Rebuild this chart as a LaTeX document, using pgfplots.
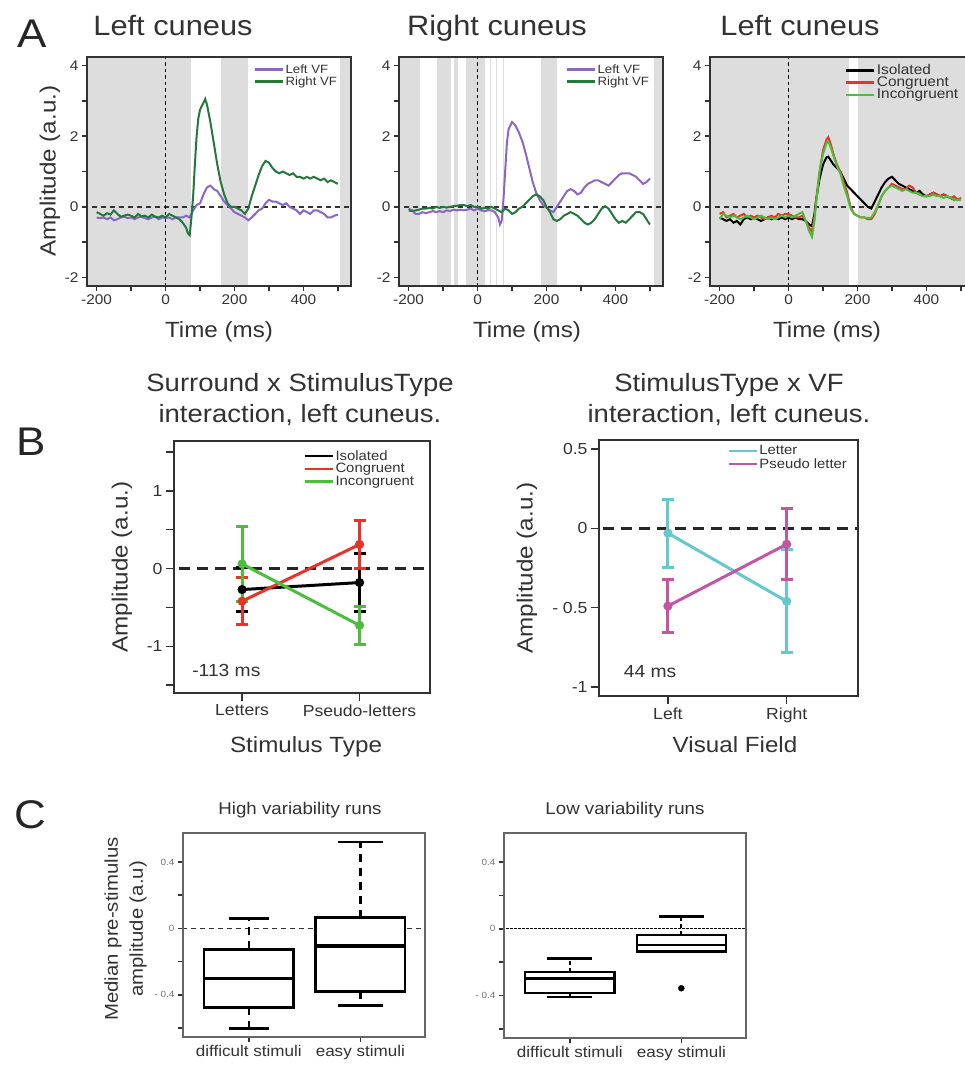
\documentclass[border=0pt]{standalone}
\usepackage{pgfplots}
\pgfplotsset{compat=1.18}
\usepackage{fontspec}
\setmainfont[FakeStretch=1.1]{Liberation Sans}

\definecolor{shadegray}{RGB}{221,221,221}
\definecolor{lvf}{RGB}{138,103,196}
\definecolor{rvf}{RGB}{35,120,60}
\definecolor{cred}{RGB}{235,50,40}
\definecolor{cgreen}{RGB}{75,190,60}
\definecolor{letc}{RGB}{100,200,205}
\definecolor{pseuc}{RGB}{195,85,165}
\definecolor{axc}{RGB}{50,50,50}

\newcommand{\fs}[1]{\fontsize{#1}{#1}\selectfont}

\pgfplotsset{
  rbase/.style={
    scale only axis, axis on top,
    axis line style={line width=1.8pt, axc},
    tick align=outside, major tick length=6pt,
    tick style={line width=1.5pt, axc},
    xtick pos=left, ytick pos=left,
    tick label style={text=axc},
    legend image code/.code={\draw[##1] (0pt,0pt) -- (28pt,0pt);},
    legend style={draw=none, fill=none, inner sep=0pt,
      nodes={inner sep=1.5pt, anchor=west, text=axc}},
  },
  ts/.style={rbase, width=264pt, height=229pt,
    xmin=-228, xmax=538, ymin=-2.24, ymax=4.24,
    xtick={-200,-100,...,500}, xticklabels={-200,,0,,200,,400,},
    ytick={-2,-1,...,4}, yticklabels={-2,,0,,2,,4},
    tick label style={font=\fs{14}},
    major tick length=5pt,
  },
  shadebar/.style={draw=none, fill=shadegray, forget plot},
  zeroline/.style={axc, dash pattern=on 5pt off 4pt, line width=1.4pt, forget plot},
  onsetline/.style={black, dash pattern=on 3.5pt off 3pt, line width=1.8pt, forget plot},
  erb/.style={line width=3pt, mark=*, mark size=3pt, forget plot,
    error bars/.cd, y dir=both, y explicit,
    error bar style={line width=3pt},
    error mark options={rotate=90, mark size=6pt, line width=3pt}},
}

\begin{document}
\begin{tikzpicture}
\path[use as bounding box] (0pt,0pt) rectangle (965pt,-1066pt);

% panel letters
\node[anchor=base west, font=\fs{40}, text=black!85] at (14pt,-47pt) {A};
\node[anchor=base west, font=\fs{40}, text=black!85] at (13pt,-455pt) {B};
\node[anchor=base west, font=\fs{40}, text=black!85] at (11pt,-828pt) {C};

% ---------------- A1 ----------------
\node[anchor=base, font=\fs{28}, text=axc] at (173pt,-35pt) {Left cuneus};
\node[anchor=base, font=\fs{22}, text=axc] at (219pt,-337pt) {Time (ms)};
\node[rotate=90, font=\fs{22}, text=axc] at (50pt,-171pt) {Amplitude (a.u.)};
\begin{axis}[ts, at={(87pt,-286pt)}, anchor=south west,
  legend style={at={(0.63,0.975)}, anchor=north west, font=\fs{12}, row sep=-1pt}]
\addplot[shadebar] coordinates {(-240,-3) (74,-3) (74,5) (-240,5)} -- cycle;
\addplot[shadebar] coordinates {(161,-3) (238,-3) (238,5) (161,5)} -- cycle;
\addplot[shadebar] coordinates {(507,-3) (560,-3) (560,5) (507,5)} -- cycle;
\addplot[zeroline] coordinates {(-240,0) (560,0)};
\addplot[onsetline] coordinates {(0,-3) (0,5)};
\addlegendimage{lvf, line width=2.6pt}\addlegendentry{Left VF}
\addlegendimage{rvf, line width=2.6pt}\addlegendentry{Right VF}
\addplot[lvf, line width=2pt, forget plot] coordinates {
(-200,-0.30)(-190,-0.32)(-180,-0.30)(-170,-0.35)(-160,-0.30)(-150,-0.38)(-140,-0.35)(-130,-0.30)
(-120,-0.28)(-110,-0.32)(-100,-0.30)(-90,-0.35)(-80,-0.30)(-70,-0.28)(-60,-0.32)(-50,-0.35)
(-40,-0.30)(-30,-0.28)(-20,-0.35)(-10,-0.30)(0,-0.32)(10,-0.30)(20,-0.35)(30,-0.30)(40,-0.30)
(50,-0.30)(60,-0.25)(70,-0.30)(80,-0.10)(90,0.05)(100,0.10)(110,0.35)(120,0.55)(130,0.60)
(140,0.50)(150,0.45)(160,0.30)(170,0.15)(180,0.05)(190,-0.05)(200,-0.15)(210,-0.20)(220,-0.25)
(230,-0.30)(240,-0.38)(250,-0.30)(260,-0.20)(270,-0.10)(280,-0.05)(290,0.10)(300,0.20)(310,0.15)
(320,0.15)(330,0.10)(340,0.05)(350,0.10)(360,0.00)(370,-0.05)(380,-0.10)(390,-0.20)(400,-0.10)
(410,-0.15)(420,-0.20)(430,-0.10)(440,-0.10)(450,-0.15)(460,-0.20)(470,-0.30)(480,-0.30)
(490,-0.25)(500,-0.22)};
\addplot[rvf, line width=2pt, forget plot] coordinates {
(-200,-0.15)(-190,-0.20)(-180,-0.25)(-170,-0.18)(-160,-0.22)(-150,-0.10)(-140,-0.20)(-130,-0.28)
(-120,-0.25)(-110,-0.22)(-100,-0.25)(-90,-0.30)(-80,-0.20)(-70,-0.27)(-60,-0.25)(-50,-0.30)
(-40,-0.22)(-30,-0.28)(-20,-0.30)(-10,-0.25)(0,-0.30)(10,-0.20)(20,-0.25)(30,-0.30)(40,-0.35)
(50,-0.45)(60,-0.60)(65,-0.75)(70,-0.80)(75,-0.30)(80,0.30)(85,1.20)(90,2.00)(95,2.50)(100,2.75)
(105,2.85)(110,2.95)(115,3.05)(120,2.90)(130,2.40)(140,1.80)(150,1.20)(160,0.70)(170,0.35)
(180,0.10)(190,0.00)(200,0.00)(210,-0.05)(220,-0.10)(230,-0.20)(240,-0.05)(250,0.30)(260,0.60)
(270,0.90)(280,1.15)(290,1.30)(300,1.25)(310,1.10)(320,1.00)(330,0.95)(340,1.00)(350,0.95)
(360,0.90)(370,0.95)(380,0.85)(390,0.85)(400,0.80)(410,0.85)(420,0.80)(430,0.85)(440,0.80)
(450,0.75)(460,0.80)(470,0.70)(480,0.75)(490,0.70)(500,0.65)};
\end{axis}

% ---------------- A2 ----------------
\node[anchor=base, font=\fs{28}, text=axc] at (497pt,-35pt) {Right cuneus};
\node[anchor=base, font=\fs{22}, text=axc] at (527pt,-337pt) {Time (ms)};
\begin{axis}[ts, at={(399pt,-286pt)}, anchor=south west,
  legend style={at={(0.63,0.975)}, anchor=north west, font=\fs{12}, row sep=-1pt}]
\addplot[shadebar] coordinates {(-240,-3) (-168,-3) (-168,5) (-240,5)} -- cycle;
\addplot[shadebar] coordinates {(-117,-3) (-78,-3) (-78,5) (-117,5)} -- cycle;
\addplot[shadebar] coordinates {(-68,-3) (-57,-3) (-57,5) (-68,5)} -- cycle;
\addplot[shadebar] coordinates {(-35,-3) (21,-3) (21,5) (-35,5)} -- cycle;
\addplot[shadebar] coordinates {(183,-3) (231,-3) (231,5) (183,5)} -- cycle;
\addplot[shadebar] coordinates {(513,-3) (560,-3) (560,5) (513,5)} -- cycle;
\addplot[shadegray, line width=0.7pt, forget plot] coordinates {(36,-3) (36,5)};
\addplot[shadegray, line width=0.7pt, forget plot] coordinates {(55,-3) (55,5)};
\addplot[shadegray, line width=0.7pt, forget plot] coordinates {(74,-3) (74,5)};
\addplot[zeroline] coordinates {(-240,0) (560,0)};
\addplot[onsetline] coordinates {(0,-3) (0,5)};
\addlegendimage{lvf, line width=2.6pt}\addlegendentry{Left VF}
\addlegendimage{rvf, line width=2.6pt}\addlegendentry{Right VF}
\addplot[lvf, line width=2pt, forget plot] coordinates {
(-200,-0.05)(-190,-0.10)(-180,-0.20)(-170,-0.20)(-160,-0.15)(-150,-0.18)(-140,-0.15)(-130,-0.12)
(-120,-0.15)(-110,-0.12)(-100,-0.15)(-90,-0.10)(-80,-0.12)(-70,-0.08)(-60,-0.10)(-50,-0.08)
(-40,-0.10)(-30,-0.08)(-20,-0.05)(-10,-0.10)(0,-0.05)(10,-0.10)(20,-0.12)(30,-0.10)(40,-0.10)
(50,-0.15)(60,-0.30)(65,-0.50)(70,-0.40)(75,0.20)(80,1.00)(85,1.80)(90,2.20)(100,2.40)(110,2.30)
(120,2.10)(130,1.85)(140,1.50)(150,1.10)(160,0.70)(170,0.40)(180,0.20)(190,0.05)(200,-0.02)
(210,-0.10)(220,-0.15)(230,0.00)(240,0.15)(250,0.30)(260,0.45)(270,0.50)(280,0.45)(290,0.35)
(300,0.40)(310,0.55)(320,0.65)(330,0.70)(340,0.75)(350,0.75)(360,0.70)(370,0.65)(380,0.60)
(390,0.70)(400,0.80)(410,0.90)(420,0.95)(430,0.95)(440,0.95)(450,0.90)(460,0.85)(470,0.75)
(480,0.65)(490,0.70)(500,0.80)};
\addplot[rvf, line width=2pt, forget plot] coordinates {
(-200,-0.10)(-190,-0.12)(-180,-0.10)(-170,-0.08)(-160,-0.05)(-150,-0.05)(-140,-0.03)(-130,-0.05)
(-120,0.00)(-110,-0.03)(-100,0.00)(-90,-0.02)(-80,0.00)(-70,0.02)(-60,0.03)(-50,0.05)(-40,0.05)
(-30,0.02)(-20,0.05)(-10,0.00)(0,0.00)(10,-0.05)(20,-0.03)(30,-0.05)(40,0.00)(50,-0.05)
(60,-0.10)(70,-0.15)(80,-0.05)(90,-0.10)(100,-0.20)(110,-0.15)(120,-0.05)(130,0.00)(140,0.10)
(150,0.20)(160,0.30)(170,0.35)(180,0.30)(190,0.20)(200,0.00)(210,-0.15)(220,-0.35)(230,-0.40)
(240,-0.35)(250,-0.25)(260,-0.20)(270,-0.15)(280,-0.20)(290,-0.25)(300,-0.35)(310,-0.45)
(320,-0.50)(330,-0.45)(340,-0.35)(350,-0.20)(360,-0.05)(370,0.02)(380,-0.05)(390,-0.20)
(400,-0.35)(410,-0.45)(420,-0.40)(430,-0.45)(440,-0.35)(450,-0.25)(460,-0.15)(470,-0.15)
(480,-0.20)(490,-0.35)(500,-0.50)};
\end{axis}

% ---------------- A3 ----------------
\node[anchor=base, font=\fs{28}, text=axc] at (800pt,-35pt) {Left cuneus};
\node[anchor=base, font=\fs{22}, text=axc] at (827pt,-337pt) {Time (ms)};
\begin{axis}[ts, at={(710pt,-286pt)}, anchor=south west,
  legend style={at={(0.51,0.975)}, anchor=north west, font=\fs{14}, row sep=-2pt}]
\addplot[shadebar] coordinates {(-240,-3) (175,-3) (175,5) (-240,5)} -- cycle;
\addplot[shadebar] coordinates {(201,-3) (560,-3) (560,5) (201,5)} -- cycle;
\addplot[zeroline] coordinates {(-240,0) (560,0)};
\addplot[onsetline] coordinates {(0,-3) (0,5)};
\addlegendimage{black, line width=2.6pt}\addlegendentry{Isolated}
\addlegendimage{cred, line width=2.6pt}\addlegendentry{Congruent}
\addlegendimage{cgreen, line width=2.6pt}\addlegendentry{Incongruent}
\addplot[black, line width=2pt, forget plot] coordinates {
(-200,-0.30)(-190,-0.35)(-180,-0.40)(-170,-0.35)(-160,-0.45)(-150,-0.40)(-140,-0.50)(-130,-0.35)
(-120,-0.30)(-110,-0.35)(-100,-0.30)(-90,-0.35)(-80,-0.40)(-70,-0.35)(-60,-0.30)(-50,-0.35)
(-40,-0.30)(-30,-0.35)(-20,-0.30)(-10,-0.35)(0,-0.30)(10,-0.35)(20,-0.30)(30,-0.35)(40,-0.35)
(50,-0.40)(60,-0.50)(68,-0.55)(75,-0.20)(80,0.20)(90,0.80)(100,1.20)(110,1.40)(115,1.42)
(120,1.35)(130,1.20)(140,1.10)(150,1.00)(160,0.80)(170,0.60)(180,0.50)(190,0.40)(200,0.30)
(210,0.20)(220,0.10)(230,0.00)(240,-0.05)(250,0.15)(260,0.35)(270,0.55)(280,0.70)(290,0.80)
(300,0.85)(310,0.75)(320,0.65)(330,0.60)(340,0.55)(350,0.50)(360,0.45)(370,0.40)(380,0.45)
(390,0.35)(400,0.30)(410,0.35)(420,0.40)(430,0.35)(440,0.30)(450,0.35)(460,0.30)(470,0.25)
(480,0.20)(490,0.20)(500,0.20)};
\addplot[cred, line width=2pt, forget plot] coordinates {
(-200,-0.20)(-190,-0.15)(-180,-0.30)(-170,-0.25)(-160,-0.20)(-150,-0.30)(-140,-0.25)(-130,-0.20)
(-120,-0.30)(-110,-0.25)(-100,-0.30)(-90,-0.25)(-80,-0.30)(-70,-0.35)(-60,-0.30)(-50,-0.25)
(-40,-0.30)(-30,-0.20)(-20,-0.25)(-10,-0.20)(0,-0.20)(10,-0.25)(20,-0.30)(30,-0.30)(40,-0.25)
(50,-0.40)(60,-0.60)(68,-0.70)(75,-0.30)(80,0.20)(90,1.00)(100,1.60)(110,1.90)(115,1.97)
(120,1.85)(130,1.50)(140,1.20)(150,1.00)(160,0.70)(170,0.40)(180,0.00)(190,-0.20)(200,-0.25)
(210,-0.30)(220,-0.30)(230,-0.35)(240,-0.35)(250,-0.20)(260,0.05)(270,0.30)(280,0.45)(290,0.55)
(300,0.65)(310,0.60)(320,0.55)(330,0.50)(340,0.50)(350,0.60)(360,0.55)(370,0.40)(380,0.35)
(390,0.30)(400,0.30)(410,0.35)(420,0.40)(430,0.35)(440,0.30)(450,0.35)(460,0.30)(470,0.25)
(480,0.30)(490,0.20)(500,0.25)};
\addplot[cgreen, line width=2pt, forget plot] coordinates {
(-200,-0.35)(-190,-0.20)(-180,-0.25)(-170,-0.30)(-160,-0.25)(-150,-0.30)(-140,-0.35)(-130,-0.30)
(-120,-0.25)(-110,-0.30)(-100,-0.35)(-90,-0.30)(-80,-0.25)(-70,-0.30)(-60,-0.35)(-50,-0.30)
(-40,-0.35)(-30,-0.30)(-20,-0.25)(-10,-0.30)(0,-0.25)(10,-0.30)(20,-0.25)(30,-0.20)(40,-0.15)
(50,-0.40)(60,-0.70)(68,-0.85)(75,-0.40)(80,0.10)(90,1.00)(100,1.50)(110,1.80)(115,1.85)
(120,1.75)(130,1.45)(140,1.15)(150,0.95)(160,0.60)(170,0.30)(180,-0.05)(190,-0.20)(200,-0.25)
(210,-0.30)(220,-0.30)(230,-0.32)(240,-0.30)(250,-0.15)(260,0.05)(270,0.30)(280,0.45)(290,0.55)
(300,0.60)(310,0.55)(320,0.50)(330,0.45)(340,0.50)(350,0.45)(360,0.40)(370,0.40)(380,0.35)
(390,0.30)(400,0.30)(410,0.30)(420,0.35)(430,0.30)(440,0.30)(450,0.25)(460,0.30)(470,0.25)
(480,0.20)(490,0.20)(500,0.20)};
\end{axis}

% ---------------- B1 ----------------
\node[anchor=base, font=\fs{25}, text=axc] at (300pt,-391pt) {Surround x StimulusType};
\node[anchor=base, font=\fs{25}, text=axc] at (300pt,-422pt) {interaction, left cuneus.};
\node[anchor=base, font=\fs{22}, text=axc] at (306pt,-752pt) {Stimulus Type};
\node[rotate=90, font=\fs{22}, text=axc] at (122pt,-567pt) {Amplitude (a.u.)};
\begin{axis}[rbase, width=256pt, height=252pt, at={(174pt,-693pt)}, anchor=south west,
  xmin=0.42, xmax=2.6, ymin=-1.6, ymax=1.64,
  xtick={1,2}, xticklabels={Letters,Pseudo-letters},
  ytick={-1.5,-1,...,1.5}, yticklabels={,-1,,0,,1,},
  tick label style={font=\fs{16}}, major tick length=8pt,
  legend style={at={(0.504,0.97)}, anchor=north west, font=\fs{13.5}, row sep=-1pt}]
\addplot[black!85, dash pattern=on 11pt off 7pt, line width=2.6pt, forget plot] coordinates {(0,0) (3,0)};
\addlegendimage{black, line width=2.8pt}\addlegendentry{Isolated}
\addlegendimage{cred, line width=2.8pt}\addlegendentry{Congruent}
\addlegendimage{cgreen, line width=2.8pt}\addlegendentry{Incongruent}
\addplot[black, erb] coordinates {(1,-0.27) +- (0,0.28) (2,-0.18) +- (0,0.37)};
\addplot[cred, erb] coordinates {(1,-0.42) +- (0,0.30) (2,0.31) +- (0,0.31)};
\addplot[cgreen, erb] coordinates {(1,0.06) +- (0,0.48) (2,-0.73) +- (0,0.24)};
\node[font=\fs{17.5}, text=axc] at (axis cs:0.866,-1.31) {-113 ms};
\end{axis}

% ---------------- B2 ----------------
\node[anchor=base, font=\fs{25}, text=axc] at (729pt,-391pt) {StimulusType x VF};
\node[anchor=base, font=\fs{25}, text=axc] at (729pt,-422pt) {interaction, left cuneus.};
\node[anchor=base, font=\fs{22}, text=axc] at (735pt,-752pt) {Visual Field};
\node[rotate=90, font=\fs{22}, text=axc] at (527pt,-568pt) {Amplitude (a.u.)};
\begin{axis}[rbase, width=259pt, height=256pt, at={(599pt,-696pt)}, anchor=south west,
  xmin=0.42, xmax=2.6, ymin=-1.057, ymax=0.557,
  xtick={1,2}, xticklabels={Left,Right},
  ytick={-1,-0.5,0,0.5}, yticklabels={-1,- 0.5,0,0.5},
  tick label style={font=\fs{16}}, major tick length=8pt,
  legend style={at={(0.494,0.985)}, anchor=north west, font=\fs{13.5}, row sep=-1pt}]
\addplot[black!85, dash pattern=on 11pt off 7pt, line width=2.6pt, forget plot] coordinates {(0,0) (3,0)};
\addlegendimage{letc, line width=2.8pt}\addlegendentry{Letter}
\addlegendimage{pseuc, line width=2.8pt}\addlegendentry{Pseudo letter}
\addplot[letc, erb] coordinates {(1,-0.03) +- (0,0.215) (2,-0.46) +- (0,0.325)};
\addplot[pseuc, erb] coordinates {(1,-0.49) +- (0,0.165) (2,-0.10) +- (0,0.225)};
\node[font=\fs{17.5}, text=axc] at (axis cs:0.85,-0.90) {44 ms};
\end{axis}

% ---------------- C1 ----------------
\node[anchor=base, font=\fs{17}, text=axc] at (300pt,-814pt) {High variability runs};
\node[rotate=90, font=\fs{18.5}, text=axc] at (113pt,-929pt) {Median pre-stimulus};
\node[rotate=90, font=\fs{18.5}, text=axc] at (138pt,-929pt) {amplitude (a.u)};
\begin{axis}[rbase, width=242pt, height=204pt, at={(183pt,-1037pt)}, anchor=south west,
  xmin=0.41, xmax=2.58, ymin=-0.654, ymax=0.574,
  xtick={1,2}, xticklabels={difficult stimuli,easy stimuli},
  ytick={-0.6,-0.4,...,0.4}, yticklabels={,- 0.4,,0,,0.4},
  xticklabel style={font=\fs{15.5}},
  yticklabel style={font=\fs{9}, text=black!55},
  axis line style={line width=1.6pt, black!60}, major tick length=5pt]
\addplot[axc, dash pattern=on 5pt off 4pt, line width=1.2pt] coordinates {(0,0) (3,0)};
% difficult stimuli
\addplot[black, line width=2.6pt, dash pattern=on 8pt off 6pt] coordinates {(1,-0.126) (1,0.06)};
\addplot[black, line width=2.6pt, dash pattern=on 8pt off 6pt] coordinates {(1,-0.476) (1,-0.602)};
\addplot[black, line width=2.6pt] coordinates {(0.82,0.06) (1.18,0.06)};
\addplot[black, line width=2.6pt] coordinates {(0.82,-0.602) (1.18,-0.602)};
\addplot[black, line width=2.6pt, fill=white] coordinates {(0.6,-0.476) (1.4,-0.476) (1.4,-0.126) (0.6,-0.126)} -- cycle;
\addplot[black, line width=3.4pt] coordinates {(0.6,-0.30) (1.4,-0.30)};
% easy stimuli
\addplot[black, line width=2.6pt, dash pattern=on 8pt off 6pt] coordinates {(2,0.064) (2,0.52)};
\addplot[black, line width=2.6pt, dash pattern=on 8pt off 6pt] coordinates {(2,-0.38) (2,-0.466)};
\addplot[black, line width=2.6pt] coordinates {(1.8,0.52) (2.2,0.52)};
\addplot[black, line width=2.6pt] coordinates {(1.8,-0.466) (2.2,-0.466)};
\addplot[black, line width=2.6pt, fill=white] coordinates {(1.6,-0.38) (2.4,-0.38) (2.4,0.064) (1.6,0.064)} -- cycle;
\addplot[black, line width=3.4pt] coordinates {(1.6,-0.106) (2.4,-0.106)};
\end{axis}

% ---------------- C2 ----------------
\node[anchor=base, font=\fs{17}, text=axc] at (625pt,-814pt) {Low variability runs};
\begin{axis}[rbase, width=242pt, height=205pt, at={(504pt,-1038pt)}, anchor=south west,
  xmin=0.41, xmax=2.58, ymin=-0.654, ymax=0.574,
  xtick={1,2}, xticklabels={difficult stimuli,easy stimuli},
  ytick={-0.6,-0.4,...,0.4}, yticklabels={,- 0.4,,0,,0.4},
  xticklabel style={font=\fs{15.5}},
  yticklabel style={font=\fs{9}, text=black!55},
  axis line style={line width=1.6pt, black!60}, major tick length=5pt]
\addplot[black, dash pattern=on 2.5pt off 1.5pt, line width=1pt] coordinates {(0,0) (3,0)};
% difficult stimuli
\addplot[black, line width=2.2pt, dash pattern=on 4pt off 3pt] coordinates {(1,-0.258) (1,-0.178)};
\addplot[black, line width=2.2pt] coordinates {(1,-0.382) (1,-0.406)};
\addplot[black, line width=2.2pt] coordinates {(0.8,-0.178) (1.2,-0.178)};
\addplot[black, line width=2.2pt] coordinates {(0.8,-0.406) (1.2,-0.406)};
\addplot[black, line width=2.2pt, fill=white] coordinates {(0.6,-0.382) (1.4,-0.382) (1.4,-0.258) (0.6,-0.258)} -- cycle;
\addplot[black, line width=2.2pt] coordinates {(0.6,-0.298) (1.4,-0.298)};
% easy stimuli
\addplot[black, line width=2.2pt, dash pattern=on 4pt off 3pt] coordinates {(2,-0.036) (2,0.074)};
\addplot[black, line width=2.2pt] coordinates {(1.8,0.074) (2.2,0.074)};
\addplot[black, line width=2.2pt, fill=white] coordinates {(1.6,-0.136) (2.4,-0.136) (2.4,-0.036) (1.6,-0.036)} -- cycle;
\addplot[black, line width=2.2pt] coordinates {(1.6,-0.096) (2.4,-0.096)};
\addplot[black, only marks, mark=*, mark size=3pt] coordinates {(2,-0.356)};
\end{axis}
\end{tikzpicture}
\end{document}
